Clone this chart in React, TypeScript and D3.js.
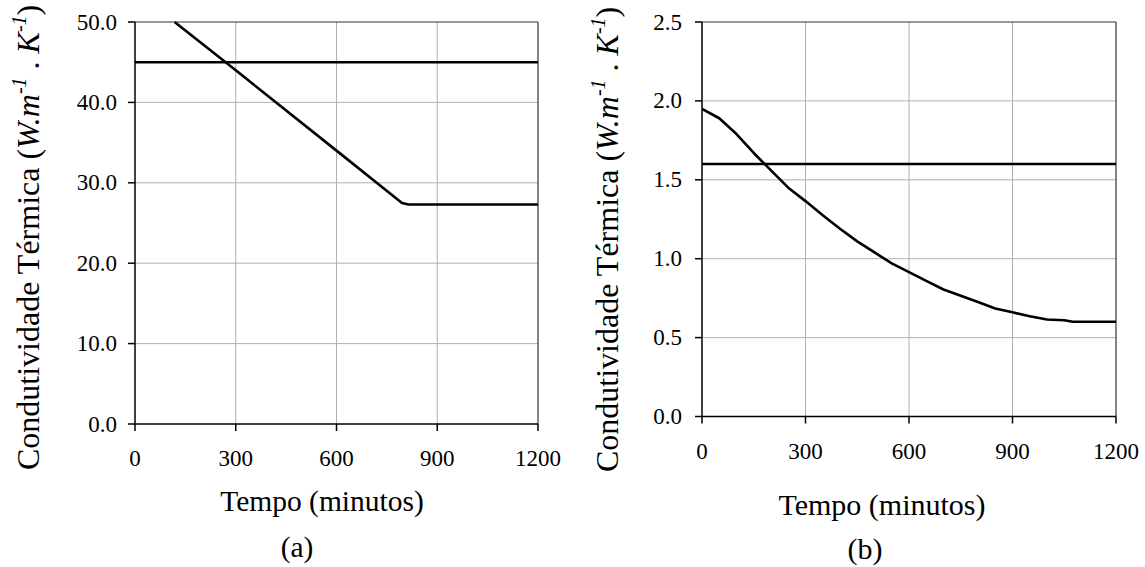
import React from "react";
import * as d3 from "d3";

// ---------- data ----------
const timeTicks = [0, 300, 600, 900, 1200];
const aYTicks = [0, 10, 20, 30, 40, 50];
const bYTicks = [0, 0.5, 1.0, 1.5, 2.0, 2.5];

const aConstTime = [0, 1200];
const aConstValue = [45.0, 45.0];
const aVarTime = [118, 300, 600, 795, 815, 1200];
const aVarValue = [50.0, 44.0, 34.0, 27.5, 27.3, 27.3];

const bConstTime = [0, 1200];
const bConstValue = [1.6, 1.6];
const bVarTime = [0, 50, 100, 150, 200, 250, 300, 350, 400, 450, 500, 550, 600, 650, 700, 750, 800, 850, 900, 950, 1000, 1050, 1075, 1200];
const bVarValue = [1.95, 1.89, 1.79, 1.67, 1.56, 1.45, 1.365, 1.275, 1.19, 1.11, 1.04, 0.97, 0.915, 0.86, 0.805, 0.765, 0.725, 0.685, 0.66, 0.635, 0.615, 0.61, 0.6, 0.6];

const FONT = "'Liberation Serif', 'Times New Roman', serif";

type Panel = {
  x0: number; x1: number; y0: number; y1: number;
  yMax: number; yTicks: number[]; fmt: (v: number) => string;
  constT: number[]; constV: number[]; varT: number[]; varV: number[];
  yLabelX: number; xLabelY: number; titleX: number; titleY: number; titleSize: number;
  tagX: number; tagY: number; tag: string; yTitleX: number; yTitleY: number;
};

function Chart({ p }: { p: Panel }) {
  const x = d3.scaleLinear().domain([0, 1200]).range([p.x0, p.x1]);
  const y = d3.scaleLinear().domain([0, p.yMax]).range([p.y1, p.y0]);
  const line = d3.line<[number, number]>().x((d) => x(d[0])).y((d) => y(d[1]));
  const cData = p.constT.map((t, i) => [t, p.constV[i]] as [number, number]);
  const vData = p.varT.map((t, i) => [t, p.varV[i]] as [number, number]);
  return (
    <g>
      {timeTicks.slice(1, -1).map((t) => (
        <line key={"gx" + t} x1={x(t)} x2={x(t)} y1={p.y0} y2={p.y1} stroke="#b0b0b0" strokeWidth={1} />
      ))}
      {p.yTicks.slice(1, -1).map((v) => (
        <line key={"gy" + v} x1={p.x0} x2={p.x1} y1={y(v)} y2={y(v)} stroke="#b0b0b0" strokeWidth={1} />
      ))}
      <line x1={p.x0} x2={p.x1} y1={p.y0} y2={p.y0} stroke="#333" strokeWidth={1.2} />
      <line x1={p.x1} x2={p.x1} y1={p.y0} y2={p.y1} stroke="#333" strokeWidth={1.2} />
      <line x1={p.x0} x2={p.x0} y1={p.y0} y2={p.y1} stroke="#000" strokeWidth={1.5} />
      <line x1={p.x0} x2={p.x1} y1={p.y1} y2={p.y1} stroke="#000" strokeWidth={1.5} />
      {timeTicks.map((t) => (
        <g key={"tx" + t}>
          <line x1={x(t)} x2={x(t)} y1={p.y1} y2={p.y1 + 7} stroke="#000" strokeWidth={1.5} />
          <text x={x(t)} y={p.xLabelY} textAnchor="middle" fontSize={23} fontFamily={FONT}>{t}</text>
        </g>
      ))}
      {p.yTicks.map((v) => (
        <g key={"ty" + v}>
          <line x1={p.x0 - 7} x2={p.x0} y1={y(v)} y2={y(v)} stroke="#000" strokeWidth={1.5} />
          <text x={p.yLabelX} y={y(v) + 7.5} textAnchor="end" fontSize={23} fontFamily={FONT}>{p.fmt(v)}</text>
        </g>
      ))}
      <path d={line(cData) || ""} fill="none" stroke="#000" strokeWidth={2.6} />
      <path d={line(vData) || ""} fill="none" stroke="#000" strokeWidth={2.6} strokeLinejoin="round" />
      <text x={p.titleX} y={p.titleY} textAnchor="middle" fontSize={p.titleSize} fontFamily={FONT}>Tempo (minutos)</text>
      <text x={p.tagX} y={p.tagY} textAnchor="middle" fontSize={p.titleSize} fontFamily={FONT}>{p.tag}</text>
      <text transform={`translate(${p.yTitleX},${p.yTitleY}) rotate(-90)`} fontSize={32} fontFamily={FONT}>
        <tspan>Condutividade Térmica (</tspan>
        <tspan fontStyle="italic">W.m</tspan>
        <tspan fontStyle="italic" fontSize={20} dy={-13}>-1</tspan>
        <tspan dy={13}> . </tspan>
        <tspan fontStyle="italic">K</tspan>
        <tspan fontStyle="italic" fontSize={20} dy={-13}>-1</tspan>
        <tspan dy={13}>)</tspan>
      </text>
    </g>
  );
}

const panelA: Panel = {
  x0: 135, x1: 538, y0: 22, y1: 424, yMax: 50, yTicks: aYTicks, fmt: (v) => v.toFixed(1),
  constT: aConstTime, constV: aConstValue, varT: aVarTime, varV: aVarValue,
  yLabelX: 117, xLabelY: 466, titleX: 322, titleY: 511, titleSize: 29.5,
  tagX: 297, tagY: 557, tag: "(a)", yTitleX: 38.5, yTitleY: 470,
};
const panelB: Panel = {
  x0: 702, x1: 1116, y0: 22, y1: 416.5, yMax: 2.5, yTicks: bYTicks, fmt: (v) => v.toFixed(1),
  constT: bConstTime, constV: bConstValue, varT: bVarTime, varV: bVarValue,
  yLabelX: 682, xLabelY: 459, titleX: 882, titleY: 515, titleSize: 30,
  tagX: 865, tagY: 559, tag: "(b)", yTitleX: 618, yTitleY: 472,
};

export default function App() {
  return (
    <svg width={1145} height={567} style={{ position: "absolute", left: 0, top: 0, background: "#fff" }}>
      <rect width={1145} height={567} fill="#fff" />
      <Chart p={panelA} />
      <Chart p={panelB} />
    </svg>
  );
}
